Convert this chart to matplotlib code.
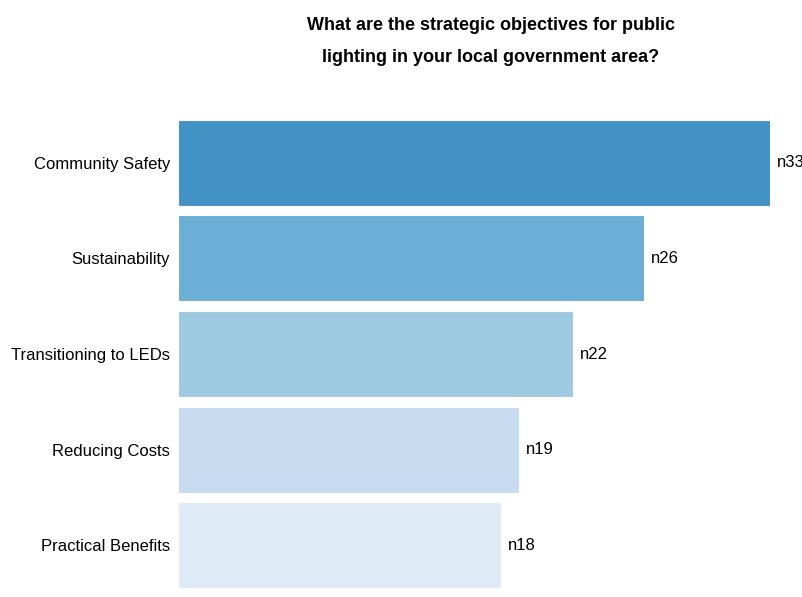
import matplotlib
matplotlib.use("Agg")
import matplotlib.pyplot as plt

categories = ["Community Safety", "Sustainability", "Transitioning to LEDs",
              "Reducing Costs", "Practical Benefits"]
counts = [33, 26, 22, 19, 18]
value_labels = ["n33", "n26", "n22", "n19", "n18"]
colors = ["#4292c6", "#6baed6", "#9ecae1", "#c6dbef", "#deebf7"]

plt.rcParams["font.family"] = ["Liberation Sans", "DejaVu Sans"]

fig = plt.figure(figsize=(8.03, 5.97), dpi=100)
W, H = 803, 597
ax = fig.add_axes([178 / W, 4 / H, (770 - 178) / W, (593 - 115) / H])

ypos = list(range(len(categories)))
ax.barh(ypos, counts, height=0.9, color=colors, edgecolor="white", linewidth=0.8)
ax.set_xlim(0, 33)
ax.set_ylim(len(categories) - 0.5, -0.5)
ax.set_yticks(ypos)
ax.set_yticklabels(categories, fontsize=12)
ax.tick_params(axis="y", length=0, pad=5.8)
ax.set_xticks([])
for s in ax.spines.values():
    s.set_visible(False)

for y, v, lab in zip(ypos, counts, value_labels):
    ax.annotate(lab, xy=(v, y), xytext=(5, 0), textcoords="offset points",
                va="center", ha="left", fontsize=12, annotation_clip=False)

fig.text(491 / W, 1 - 25 / H, "What are the strategic objectives for public",
         ha="center", va="center", fontsize=13, fontweight="bold")
fig.text(491 / W, 1 - 58 / H, "lighting in your local government area?",
         ha="center", va="center", fontsize=13, fontweight="bold")

fig.savefig("out.png", dpi=100)
